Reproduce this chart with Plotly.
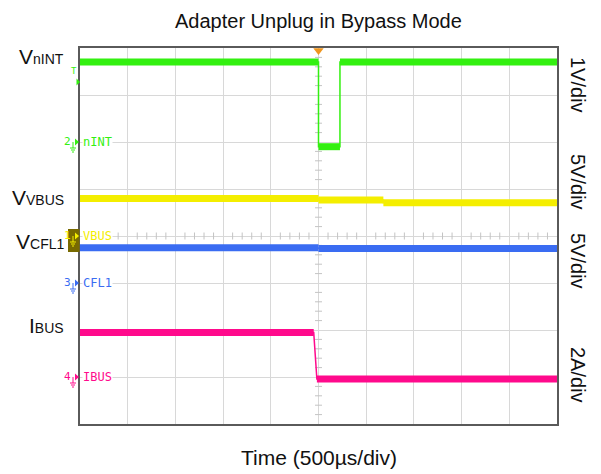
import plotly.graph_objects as go

# ---------------- data ----------------
TITLE = "Adapter Unplug in Bypass Mode"
XLABEL = "Time (500µs/div)"
T_PER_DIV = 500          # µs per horizontal division
N_XDIV = 10
N_YDIV = 8

# waveform breakpoints: time (µs, trigger at 0) and value in channel units
nint_t = [-2500, 0, 0, 225, 225, 2500]
nint_v = [1.70, 1.70, -0.10, -0.10, 1.70, 1.70]          # V
vbus_t = [-2500, 0, 0, 680, 680, 2500]
vbus_v = [4.00, 4.00, 3.82, 3.82, 3.55, 3.55]            # V
cfl1_t = [-2500, 0, 0, 2500]
cfl1_v = [3.75, 3.75, 3.67, 3.67]                        # V
ibus_t = [-2500, -50, -17, 2500]
ibus_a = [1.89, 1.89, -0.09, -0.09]                      # A

ch_names = ["nINT", "VBUS", "CFL1", "IBUS"]
ch_numbers = ["2", "1", "3", "4"]
ch_scales = [1, 5, 5, 2]                 # units per division
ch_ground = [6, 4, 3, 1]                 # ground marker position (div)
ch_scale_labels = ["1V/div", "5V/div", "5V/div", "2A/div"]
ch_left_labels = ["V<span style='font-size:14px'>nINT</span>",
                  "V<span style='font-size:14px'>VBUS</span>",
                  "V<span style='font-size:14px'>CFL1</span>",
                  "I<span style='font-size:14px'>BUS</span>"]
ch_colors = ["#33f010", "#f4ee00", "#3a6cf2", "#ff0a8c"]
ch_t = [nint_t, vbus_t, cfl1_t, ibus_t]
ch_v = [nint_v, vbus_v, cfl1_v, ibus_a]

# ---------------- layout geometry ----------------
W, H = 601, 474
ML, MR, MT, MB = 80, 44, 48, 50
PW, PH = W - ML - MR, H - MT - MB


def px(x):
    return (x - ML) / PW


def py(y):
    return (H - MB - y) / PH


FONT = "Liberation Sans, Arial, sans-serif"
MONO = "DejaVu Sans Mono, monospace"

fig = go.Figure()

# center-line minor ticks
xmin, xmax = -N_XDIV / 2 * T_PER_DIV, N_XDIV / 2 * T_PER_DIV
tick_x = [xmin + i * T_PER_DIV / 5 for i in range(N_XDIV * 5 + 1) if i % 5]
tick_y = [i / 5 for i in range(N_YDIV * 5 + 1) if i % 5]
fig.add_trace(go.Scatter(x=tick_x, y=[N_YDIV / 2] * len(tick_x), mode="markers",
                         marker=dict(symbol="line-ns", size=5, line=dict(width=1, color="#c4c4c4")),
                         hoverinfo="skip", showlegend=False))
fig.add_trace(go.Scatter(x=[0] * len(tick_y), y=tick_y, mode="markers",
                         marker=dict(symbol="line-ew", size=5, line=dict(width=1, color="#c4c4c4")),
                         hoverinfo="skip", showlegend=False))

# waveforms
for t, v, sc, g, col in zip(ch_t, ch_v, ch_scales, ch_ground, ch_colors):
    ydiv = [g + val / sc for val in v]
    fig.add_trace(go.Scatter(x=t, y=ydiv, mode="lines", line=dict(color=col, width=1.5),
                             hoverinfo="skip", showlegend=False))
    hx, hy = [], []
    for i in range(len(t) - 1):
        if v[i] == v[i + 1]:
            hx += [t[i], t[i + 1], None]
            hy += [ydiv[i], ydiv[i + 1], None]
    fig.add_trace(go.Scatter(x=hx, y=hy, mode="lines", line=dict(color=col, width=7),
                             hoverinfo="skip", showlegend=False))

# trigger position marker
fig.add_trace(go.Scatter(x=[0], y=[N_YDIV - 0.055], mode="markers", cliponaxis=False,
                         marker=dict(symbol="triangle-down", size=9, color="#f0961e"),
                         hoverinfo="skip", showlegend=False))

ann = []
shapes = []
ann.append(dict(text=TITLE, x=px(318), y=py(21), xref="paper", yref="paper",
                xanchor="center", yanchor="middle", showarrow=False,
                font=dict(family=FONT, size=20, color="#111111")))
ann.append(dict(text=XLABEL, x=px(318.5), y=py(457.5), xref="paper", yref="paper",
                xanchor="center", yanchor="middle", showarrow=False,
                font=dict(family=FONT, size=21, color="#111111")))

left_y = [58, 199, 243, 327]
right_y = [86, 183, 262, 376]
for i in range(4):
    ann.append(dict(text=ch_left_labels[i], x=px(66), y=py(left_y[i] - 2), xref="paper", yref="paper",
                    xanchor="right", yanchor="middle", showarrow=False,
                    font=dict(family=FONT, size=21, color="#111111")))
    ann.append(dict(text=ch_scale_labels[i], x=px(578), y=py(right_y[i] - 1), xref="paper", yref="paper",
                    xanchor="center", yanchor="middle", showarrow=False, textangle=90,
                    font=dict(family=FONT, size=20, color="#111111")))

# channel ground markers
for i in range(4):
    gy = H - MB - ch_ground[i] * PH / N_YDIV
    col = ch_colors[i]
    if ch_names[i] == "VBUS":
        shapes.append(dict(type="rect", xref="paper", yref="paper", x0=px(68), x1=px(79.5),
                           y0=py(gy - 7), y1=py(gy + 16), fillcolor="#786a00", line=dict(width=0)))
    ann.append(dict(text=ch_numbers[i], x=px(72.5), y=py(gy - 1), xref="paper", yref="paper",
                    xanchor="right", yanchor="middle", showarrow=False,
                    font=dict(family=MONO, size=11, color=col)))
    shapes.append(dict(type="path", xref="paper", yref="paper",
                       path=f"M {px(75)},{py(gy - 3.5)} L {px(79)},{py(gy)} L {px(75)},{py(gy + 3.5)} Z",
                       fillcolor=col, line=dict(width=0)))
    gx = 73
    shapes.append(dict(type="line", xref="paper", yref="paper", x0=px(gx), x1=px(gx),
                       y0=py(gy), y1=py(gy + 6), line=dict(color=col, width=1)))
    for k, hw in enumerate([3, 2, 1]):
        shapes.append(dict(type="line", xref="paper", yref="paper", x0=px(gx - hw), x1=px(gx + hw),
                           y0=py(gy + 6 + 2 * k), y1=py(gy + 6 + 2 * k), line=dict(color=col, width=1)))
    ann.append(dict(text=ch_names[i], x=px(81.5), y=py(gy), xref="paper", yref="paper",
                    xanchor="left", yanchor="middle", showarrow=False, bgcolor="white",
                    borderpad=0, font=dict(family=MONO, size=12, color=col)))

# trigger level marker (channel nINT)
ann.append(dict(text="T", x=px(79), y=py(71), xref="paper", yref="paper",
                xanchor="right", yanchor="middle", showarrow=False,
                font=dict(family=MONO, size=9, color=ch_colors[0])))
shapes.append(dict(type="path", xref="paper", yref="paper",
                   path=f"M {px(76.5)},{py(78.5)} L {px(80)},{py(82)} L {px(76.5)},{py(85.5)} Z",
                   fillcolor=ch_colors[0], line=dict(width=0)))

fig.update_layout(
    width=W, height=H, autosize=False,
    margin=dict(l=ML, r=MR, t=MT, b=MB),
    paper_bgcolor="white", plot_bgcolor="white",
    annotations=ann, shapes=shapes,
    xaxis=dict(range=[xmin, xmax], tick0=xmin, dtick=T_PER_DIV, showticklabels=False,
               ticks="", showgrid=True, gridcolor="#d8d8d8", gridwidth=1, zeroline=False,
               showline=True, linecolor="#5a5a5a", linewidth=1.5, mirror=True, fixedrange=True),
    yaxis=dict(range=[0, N_YDIV], tick0=0, dtick=1, showticklabels=False,
               ticks="", showgrid=True, gridcolor="#d8d8d8", gridwidth=1, zeroline=False,
               showline=True, linecolor="#5a5a5a", linewidth=1.5, mirror=True, fixedrange=True),
)

fig.write_html("out.html", config={"displayModeBar": False},
               post_script="document.body.style.margin='0px';document.body.style.overflow='hidden';")
